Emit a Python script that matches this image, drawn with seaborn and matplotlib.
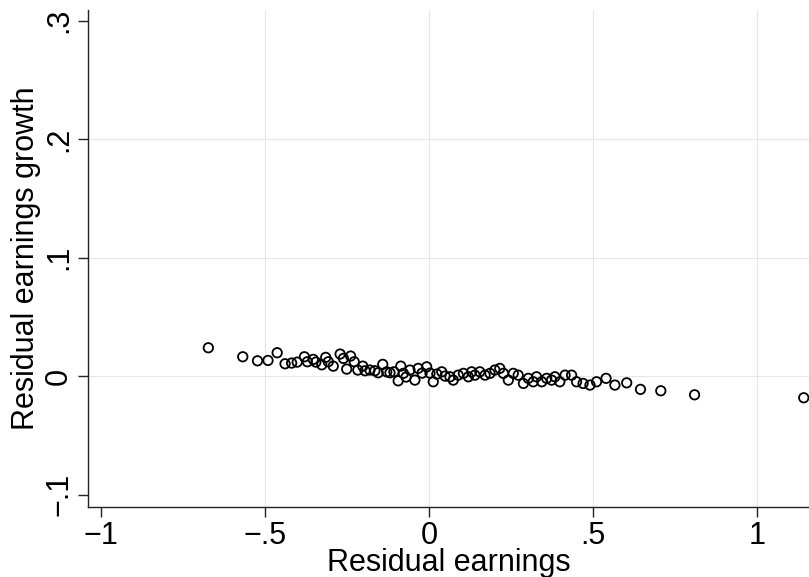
import matplotlib
matplotlib.use("Agg")
import matplotlib.pyplot as plt
import seaborn as sns
import pandas as pd
from matplotlib import font_manager

x_vals = [-0.673, -0.568, -0.523, -0.491, -0.463, -0.439, -0.419, -0.402, -0.380, -0.371,
          -0.353, -0.345, -0.327, -0.315, -0.307, -0.292, -0.271, -0.261, -0.251, -0.239,
          -0.228, -0.217, -0.202, -0.195, -0.180, -0.165, -0.155, -0.141, -0.129, -0.119,
          -0.107, -0.094, -0.086, -0.078, -0.070, -0.058, -0.043, -0.033, -0.021, -0.007,
          0.003, 0.013, 0.024, 0.039, 0.049, 0.064, 0.074, 0.089, 0.105, 0.120,
          0.130, 0.140, 0.155, 0.171, 0.186, 0.201, 0.216, 0.227, 0.242, 0.257,
          0.272, 0.288, 0.303, 0.318, 0.328, 0.344, 0.359, 0.374, 0.384, 0.399,
          0.415, 0.435, 0.450, 0.470, 0.491, 0.511, 0.540, 0.567, 0.603, 0.645,
          0.707, 0.810, 1.143]
y_vals = [0.0239, 0.0163, 0.0129, 0.0132, 0.0197, 0.0104, 0.0110, 0.0118, 0.0163, 0.0121,
          0.0141, 0.0118, 0.0095, 0.0158, 0.0121, 0.0084, 0.0186, 0.0149, 0.0059, 0.0169,
          0.0121, 0.0051, 0.0084, 0.0045, 0.0051, 0.0045, 0.0028, 0.0099, 0.0036, 0.0028,
          0.0036, -0.0040, 0.0084, 0.0023, -0.0008, 0.0051, -0.0034, 0.0065, 0.0025, 0.0078,
          0.0025, -0.0048, 0.0017, 0.0036, 0.0000, -0.0006, -0.0034, 0.0008, 0.0023, -0.0006,
          0.0036, 0.0008, 0.0036, 0.0008, 0.0023, 0.0051, 0.0065, 0.0023, -0.0034, 0.0023,
          0.0008, -0.0062, -0.0019, -0.0048, -0.0006, -0.0048, -0.0019, -0.0034, -0.0006, -0.0048,
          0.0008, 0.0008, -0.0048, -0.0062, -0.0076, -0.0048, -0.0019, -0.0076, -0.0057, -0.0112,
          -0.0124, -0.0158, -0.0183]

x_ticks = [-1, -0.5, 0, 0.5, 1]
x_tick_labels = ["\u22121", "\u2212.5", "0", ".5", "1"]
y_ticks = [-0.1, 0, 0.1, 0.2, 0.3]
y_tick_labels = ["\u2212.1", "0", ".1", ".2", ".3"]

sns.set_theme(style="white")
names = {f.name for f in font_manager.fontManager.ttflist}
fam = "Liberation Sans Narrow" if "Liberation Sans Narrow" in names else "Liberation Sans"
plt.rcParams["font.family"] = [fam, "DejaVu Sans"]
plt.rcParams["text.color"] = "black"
plt.rcParams["axes.labelcolor"] = "black"
plt.rcParams["xtick.color"] = "black"
plt.rcParams["ytick.color"] = "black"

df = pd.DataFrame({"x": x_vals, "y": y_vals})

fig = plt.figure(figsize=(8.09, 5.77), dpi=100)
ax = fig.add_axes([88 / 809, 70 / 577, 1 - 88 / 809, (507 - 10) / 577])

sns.scatterplot(data=df, x="x", y="y", ax=ax, marker="o", s=46,
                facecolor="none", edgecolor="black", linewidth=1.3, zorder=3)

ax.set_xlim(-1.04, 1.159)
ax.set_ylim(-0.1105, 0.309)
ax.set_xticks(x_ticks)
ax.set_xticklabels(x_tick_labels, fontsize=22, color="black")
ax.set_yticks(y_ticks)
ax.set_yticklabels(y_tick_labels, fontsize=22, rotation=90, va="center", color="black")

ax.grid(True, color="#e6e6e6", linewidth=0.8, zorder=0)
xg = ax.xaxis.get_gridlines()
xg[0].set_visible(False)
yg = ax.yaxis.get_gridlines()
yg[0].set_visible(False)
yg[-1].set_visible(False)

for side in ["top", "right"]:
    ax.spines[side].set_visible(False)
for side in ["left", "bottom"]:
    ax.spines[side].set_color("#222222")
    ax.spines[side].set_linewidth(1.0)

ax.tick_params(axis="both", direction="out", length=7, width=1.0, color="#222222",
               left=True, bottom=True, pad=3)

ax.set_xlabel("Residual earnings", fontsize=22, labelpad=-2, color="black")
ax.set_ylabel("Residual earnings growth", fontsize=22, labelpad=2, color="black")

fig.savefig("out.png", dpi=100)
